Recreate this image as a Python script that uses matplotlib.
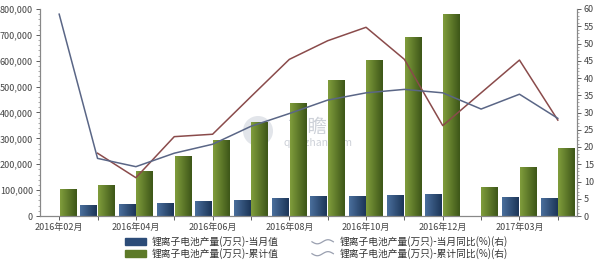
import numpy as np
import matplotlib
matplotlib.use("Agg")
import matplotlib.pyplot as plt
from matplotlib.ticker import FuncFormatter, MultipleLocator
from matplotlib.legend_handler import HandlerBase
from matplotlib.lines import Line2D
from matplotlib.patches import Patch, Ellipse

plt.rcParams['font.family'] = ['Noto Sans CJK SC', 'DejaVu Sans']

# =========================
# DATA
# =========================
months = ["2016年02月", "2016年03月", "2016年04月", "2016年05月", "2016年06月",
          "2016年07月", "2016年08月", "2016年09月", "2016年10月", "2016年11月",
          "2016年12月", "2017年02月", "2017年03月", "2017年04月"]
monthly = [None, 41000, 48000, 51000, 58000, 62000, 71000, 76000, 76000,
           81000, 84000, None, 72000, 71000]
cumulative = [105000, 120000, 175000, 233000, 294000, 365000, 438000, 524000,
              604000, 693000, 782000, 111000, 191000, 263000]
monthly_yoy = [None, 18.2, 11.1, 23.0, 23.7, 34.6, 45.4, 50.8, 54.7, 45.4,
               26.2, None, 45.2, 27.8]
cumulative_yoy = [58.5, 16.7, 14.3, 18.2, 20.8, 26.0, 29.7, 33.6, 35.7, 36.7,
                  35.7, 31.0, 35.3, 28.3]

names = ["锂离子电池产量(万只)-当月值", "锂离子电池产量(万只)-累计值",
         "锂离子电池产量(万只)-当月同比(%)(右)", "锂离子电池产量(万只)-累计同比(%)(右)"]

# =========================
# PLOT
# =========================
fig = plt.figure(figsize=(6, 2.66), dpi=100)

# watermark (behind everything)
fig.patches.append(Ellipse((258 / 600, 1 - 131 / 266), 30 / 600, 30 / 266,
                           transform=fig.transFigure, facecolor="#e2e5ea",
                           edgecolor="none", zorder=0))
fig.text(317 / 600, 1 - 127 / 266, "前瞻网", fontsize=14, color="#cdd1d8",
         ha="center", va="center", zorder=0)
fig.text(318 / 600, 1 - 143 / 266, "qianzhan.com", fontsize=7.5, color="#cdd1d8",
         ha="center", va="center", zorder=0)

ax = fig.add_axes([40 / 600, 1 - 216 / 266, 537 / 600, 207 / 266])
ax.patch.set_alpha(0)
ax2 = ax.twinx()
ax.set_zorder(1)
ax2.set_zorder(2)
ax2.patch.set_visible(False)

x = np.arange(len(months))
w = 0.44
blue_light, blue_dark = "#4a6f9c", "#1c3558"
green_light, green_dark = "#809d3c", "#3d5618"


def gradient_bars(bars, c1, c2):
    grad = np.linspace(0, 1, 64).reshape(1, -1)
    cmap = matplotlib.colors.LinearSegmentedColormap.from_list("g", [c1, c2])
    for b in bars:
        bx, by = b.get_x(), b.get_y()
        bw, bh = b.get_width(), b.get_height()
        if bh <= 0:
            continue
        im = ax.imshow(grad, extent=[bx, bx + bw, by, by + bh], aspect="auto",
                       cmap=cmap, zorder=2, interpolation="bicubic")
        im.set_clip_path(b)
        b.set_facecolor("none")


m_vals = [v if v is not None else 0 for v in monthly]
b1 = ax.bar(x - 0.23, m_vals, w, color=blue_light, zorder=2, linewidth=0)
b2 = ax.bar(x + 0.23, cumulative, w, color=green_light, zorder=2, linewidth=0)
gradient_bars(b1, blue_light, blue_dark)
gradient_bars(b2, green_light, green_dark)

ax.set_xlim(-0.5, len(months) - 0.5)
ax.set_ylim(0, 800000)
ax.yaxis.set_major_locator(MultipleLocator(100000))
ax.yaxis.set_minor_locator(MultipleLocator(20000))
ax.yaxis.set_major_formatter(FuncFormatter(lambda v, p: f"{int(v):,}"))
ax.set_xticks(x)
ax.set_xticklabels([m if i % 2 == 0 else "" for i, m in enumerate(months)])

# lines (connect across missing values)
my = [(i, v) for i, v in enumerate(monthly_yoy) if v is not None]
ax2.plot([p[0] for p in my], [p[1] for p in my], color="#8a4b4b", lw=1.1, zorder=3)
ax2.plot(x, cumulative_yoy, color="#5a6686", lw=1.1, zorder=3)
ax2.set_ylim(0, 60)
ax2.yaxis.set_major_locator(MultipleLocator(5))
ax2.yaxis.set_minor_locator(MultipleLocator(1))

for a in (ax, ax2):
    a.spines["top"].set_visible(False)
    for s in ("left", "right", "bottom"):
        a.spines[s].set_color("#888888")
        a.spines[s].set_linewidth(0.8)
    a.tick_params(labelsize=6.5, colors="#444444", length=3, width=0.6)
    a.tick_params(which="minor", length=1.5, width=0.5, colors="#888888")
ax.tick_params(axis="x", length=3, pad=2)
ax.tick_params(axis="y", pad=2)
ax2.tick_params(axis="y", pad=2)


class WaveHandler(HandlerBase):
    def create_artists(self, legend, orig, xd, yd, width, height, fontsize, trans):
        t = np.linspace(0, 2 * np.pi, 40)
        xs = xd + width * t / (2 * np.pi)
        ys = yd + height / 2 + height * 0.3 * np.sin(t + np.pi)
        ln = Line2D(xs, ys, color=orig.get_color(), lw=0.9, transform=trans)
        return [ln]


h1 = Patch(color="#2c4c78")
h2 = Patch(color="#5d7a28")
h3 = Line2D([], [], color="#9aa0b0")
h4 = Line2D([], [], color="#9aa0b0")
fig.legend([h1, h2, h3, h4], names, ncol=2, loc="lower left",
           bbox_to_anchor=(118 / 600, 0.0), frameon=False, fontsize=7,
           handler_map={Line2D: WaveHandler()}, handlelength=2.2,
           handleheight=0.7, columnspacing=3.4, labelspacing=0.1,
           handletextpad=0.6, borderaxespad=0.3, labelcolor="#333333")

fig.savefig("out.png", dpi=100)
